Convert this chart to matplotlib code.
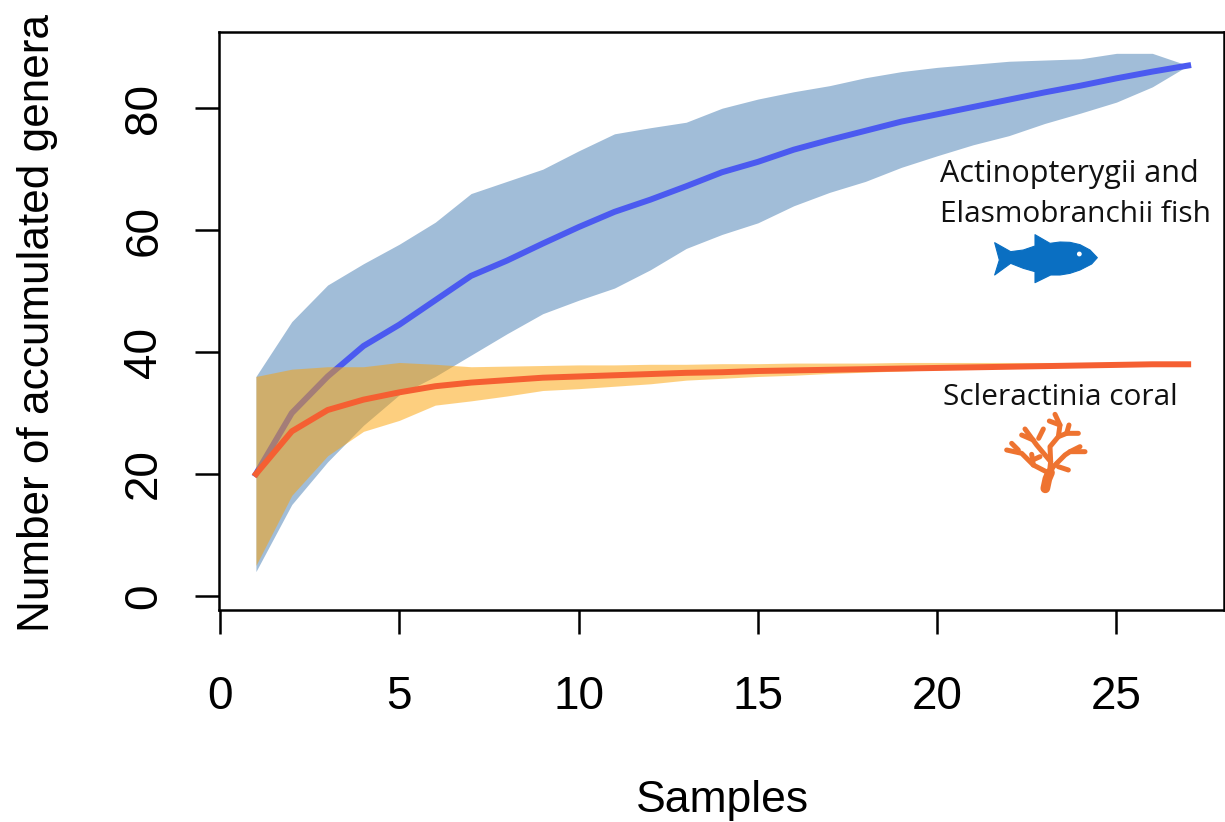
import numpy as np
import matplotlib
matplotlib.use('Agg')
import matplotlib.pyplot as plt
from matplotlib.patches import Polygon, Circle

samples = list(range(1, 28))
fish_mean = [20, 30, 36, 41, 44.5, 48.5, 52.5, 55, 57.8, 60.5, 63, 65, 67.2, 69.5, 71.2, 73.2, 74.8,
             76.3, 77.8, 79, 80.2, 81.4, 82.6, 83.7, 84.9, 86, 87]
fish_upper = [36, 45, 51, 54.5, 57.7, 61.3, 66, 68, 70, 73, 75.8, 76.8, 77.7, 80, 81.5, 82.7, 83.7,
              85, 86, 86.7, 87.2, 87.7, 87.9, 88.1, 89, 89, 87]
fish_lower = [4, 15, 22, 28, 33, 36, 39.5, 43, 46.3, 48.5, 50.5, 53.5, 57, 59.3, 61.2, 64, 66.2,
              68, 70.3, 72.2, 74, 75.5, 77.5, 79.2, 81, 83.5, 87]
coral_mean = [20, 27, 30.5, 32.2, 33.4, 34.4, 35, 35.4, 35.8, 36, 36.2, 36.4, 36.6, 36.7, 36.9, 37, 37.1,
              37.2, 37.3, 37.4, 37.5, 37.6, 37.7, 37.8, 37.9, 38, 38]
coral_upper = [36, 37.2, 37.6, 37.6, 38.3, 38, 37.6, 37.7, 37.8, 37.9, 37.9, 38, 38, 38.1, 38.1, 38.2, 38.2,
               38.2, 38.3, 38.3, 38.3, 38.3, 38.3, 38.3, 38.3, 38.3, 38]
coral_lower = [5, 16.5, 23, 27, 28.8, 31.3, 32, 32.8, 33.7, 34, 34.4, 34.8, 35.4, 35.7, 36, 36.2, 36.5,
               36.7, 36.9, 37.1, 37.3, 37.4, 37.5, 37.6, 37.7, 37.8, 38]
x_ticks = [0, 5, 10, 15, 20, 25]
y_ticks = [0, 20, 40, 60, 80]

W, H = 1225, 822
plt.rcParams['font.family'] = ['Liberation Sans', 'DejaVu Sans']
fig = plt.figure(figsize=(W / 100, H / 100), dpi=100)
ax = fig.add_axes([219 / W, 1 - 610 / H, (1224 - 219) / W, (610 - 32) / H])

# draw order matters, the orange band sits on top of the blue line
ax.fill_between(samples, fish_lower, fish_upper, color='#a1bdd8', lw=0, zorder=1)
ax.plot(samples, fish_mean, color='#4b5af0', lw=4.3, solid_joinstyle='round', zorder=2)
ax.fill_between(samples, coral_lower, coral_upper, color='#fda101', alpha=0.5, lw=0, zorder=3)
ax.plot(samples, coral_mean, color='#f55f32', lw=4.3, solid_joinstyle='round', zorder=4)

ax.set_xlim(-0.03, 28)
ax.set_ylim(-2.3, 92.5)
ax.set_xticks(x_ticks)
ax.set_yticks(y_ticks)
ax.tick_params(axis='both', length=17, width=1.8, labelsize=33)
ax.tick_params(axis='x', pad=30)
ax.tick_params(axis='y', pad=21)
for lab in ax.get_yticklabels():
    lab.set_rotation(90)
    lab.set_va('center')
for sp in ax.spines.values():
    sp.set_linewidth(1.8)

fig.text(722 / W, 1 - 800 / H, 'Samples', fontsize=32, ha='center', va='center')
fig.text(38 / W, 1 - 323 / H, 'Number of accumulated genera', fontsize=31.8, rotation=90, ha='center', va='center')

# labels and icons are placed in picture pixels on a transparent overlay
over = fig.add_axes([0, 0, 1, 1], facecolor='none')
over.set_xlim(0, W)
over.set_ylim(H, 0)
over.axis('off')

note = dict(family='Open Sans', ha='center', va='center', color='#111111')
over.text(1069, 174, 'Actinopterygii and', fontsize=22, **note)
over.text(1075, 214, 'Elasmobranchii fish', fontsize=21.5, **note)
over.text(1060, 397, 'Scleractinia coral', fontsize=21.5, **note)

fish_shape = np.array([(44, 68), (92, 95), (130, 90), (165, 78), (165, 44), (210, 70), (240, 66), (270, 67),
                       (300, 74), (330, 90), (352, 113), (335, 132), (300, 150), (270, 160), (240, 165),
                       (212, 165), (165, 188), (165, 155), (130, 145), (92, 130), (44, 165), (58, 120)],
                      dtype=float)
over.add_patch(Polygon(fish_shape / 3 + [980, 220], closed=True, fc='#0a6fc2', ec='#0a6fc2', lw=0.8, joinstyle='round'))
over.add_patch(Circle((298 / 3 + 980, 102 / 3 + 220), 2.4, fc='white', ec='none'))

coral_branches = [
    [(178, 205), (190, 185), (225, 150), (240, 140), (285, 140)],
    [(240, 140), (270, 125)],
    [(205, 185), (235, 195)],
    [(178, 205), (182, 170), (180, 125), (205, 95), (210, 60), (195, 28)],
    [(178, 48), (210, 60)],
    [(205, 95), (230, 85), (265, 85)],
    [(230, 85), (237, 60)],
    [(178, 205), (130, 180), (95, 145), (50, 135)],
    [(85, 135), (65, 115)],
    [(130, 180), (125, 148)],
    [(128, 165), (150, 155)],
    [(182, 170), (140, 120), (105, 72)],
    [(130, 105), (95, 90)],
    [(146, 100), (160, 72)],
]
for branch in coral_branches:
    pts = np.array(branch, dtype=float) / 3 + [990, 405]
    over.plot(pts[:, 0], pts[:, 1], color='#ee7330', lw=3.6, solid_capstyle='round', solid_joinstyle='round')
trunk = np.array([(166, 250), (172, 222), (180, 203)], dtype=float) / 3 + [990, 405]
over.plot(trunk[:, 0], trunk[:, 1], color='#ee7330', lw=7, solid_capstyle='round')

fig.savefig('out.png', dpi=100)
